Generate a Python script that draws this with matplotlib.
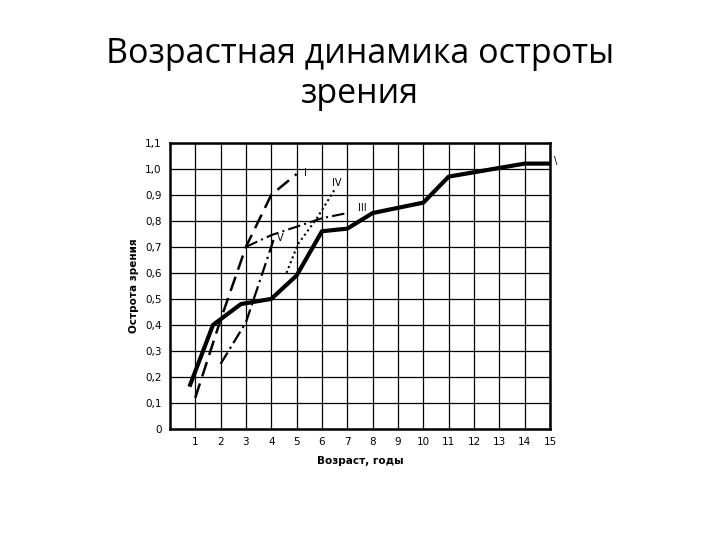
import matplotlib
matplotlib.use("Agg")
import matplotlib.pyplot as plt

# данные
age_main = [0.8, 1.7, 2.8, 4, 5, 6, 7, 8, 10, 11, 14, 15]
acuity_main = [0.17, 0.40, 0.48, 0.50, 0.59, 0.76, 0.77, 0.83, 0.87, 0.97, 1.02, 1.02]

age_I = [1, 2, 3, 4, 5]
acuity_I = [0.12, 0.42, 0.70, 0.90, 0.98]

age_III = [3, 4, 6, 7]
acuity_III = [0.70, 0.745, 0.81, 0.83]

age_IV = [4.6, 5.05, 5.8, 6.5]
acuity_IV = [0.60, 0.71, 0.81, 0.92]

age_V = [2, 3, 4.1]
acuity_V = [0.25, 0.41, 0.73]

x_ticks = list(range(1, 16))
y_ticks = [0, 0.1, 0.2, 0.3, 0.4, 0.5, 0.6, 0.7, 0.8, 0.9, 1.0, 1.1]
y_labels = ['0', '0,1', '0,2', '0,3', '0,4', '0,5', '0,6', '0,7', '0,8', '0,9', '1,0', '1,1']

fig = plt.figure(figsize=(7.2, 5.4), dpi=100)
fig.text(0.5, 0.883, 'Возрастная динамика остроты', ha='center', va='baseline',
         fontsize=24.5, family='Open Sans')
fig.text(0.5, 0.809, 'зрения', ha='center', va='baseline',
         fontsize=24.5, family='Open Sans')

ax = fig.add_axes([0.236, 0.2056, 0.528, 0.53])
ax.plot(age_main, acuity_main, color='black', lw=3)
ax.plot(age_I, acuity_I, color='black', lw=1.8, ls=(0, (6, 3)))
ax.plot(age_III, acuity_III, color='black', lw=1.5, ls=(0, (6, 2, 1, 2)))
ax.plot(age_IV, acuity_IV, color='black', lw=1.5, ls=(0, (1, 1.5)))
ax.plot(age_V, acuity_V, color='black', lw=1.6, ls=(0, (6, 2, 1, 2)))

ax.text(5.35, 0.985, 'I', fontsize=7, ha='center', va='center')
ax.text(6.6, 0.945, 'IV', fontsize=7, ha='center', va='center')
ax.text(7.6, 0.85, 'III', fontsize=7, ha='center', va='center')
ax.text(4.35, 0.735, 'V', fontsize=7, ha='center', va='center')
ax.text(15.2, 1.03, '\\', fontsize=7, ha='center', va='center', clip_on=False)

ax.set_xlim(0, 15)
ax.set_ylim(0, 1.1)
ax.set_xticks(x_ticks)
ax.set_yticks(y_ticks)
ax.set_yticklabels(y_labels)
ax.tick_params(length=0, labelsize=7.5, pad=6)
ax.grid(True, color='black', lw=0.9)
for s in ax.spines.values():
    s.set_linewidth(1.8)

ax.set_xlabel('Возраст, годы', fontsize=7.5, labelpad=6, fontweight='bold')
ax.set_ylabel('Острота зрения', fontsize=7.5, labelpad=4, fontweight='bold')

fig.savefig('out.png', dpi=100)
